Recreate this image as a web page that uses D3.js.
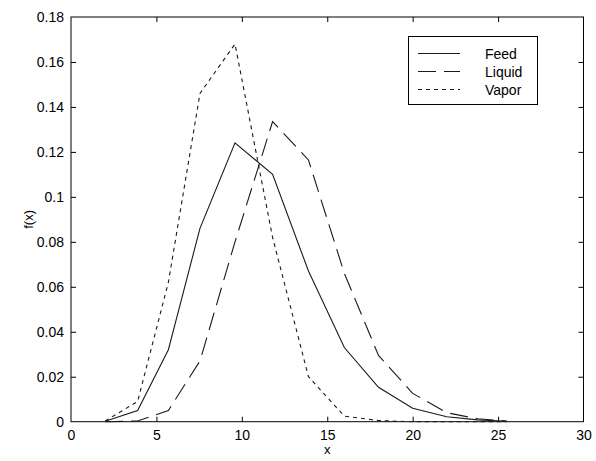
<html>
    <head>
        <script src="https://d3js.org/d3.v7.min.js"></script>
        <style>
            body { margin: 0; background: #fff; }
            text { font-family: Arial, "Liberation Sans", sans-serif; fill: #000; }
            .frame { fill: none; stroke: #000; stroke-width: 1px; }
            .curve { fill: none; stroke: #1a1a1a; stroke-width: 1.1px; }
        </style>
    </head>
    <body>
        <svg id="chart" width="596" height="461"></svg>
        <script>
            // values
            const xValues      = [2.0, 3.9, 5.7, 7.55, 9.6, 11.8, 13.9, 16.0, 18.0, 20.0, 22.0, 23.8, 25.5];
            const feedValues   = [0.0002, 0.005, 0.032, 0.086, 0.124, 0.110, 0.067, 0.033, 0.0153, 0.006, 0.0022, 0.0008, 0.0002];
            const liquidValues = [0, 0.0003, 0.005, 0.027, 0.080, 0.1335, 0.1164, 0.066, 0.0295, 0.0126, 0.004, 0.0013, 0.0003];
            const vaporValues  = [0.0003, 0.009, 0.062, 0.146, 0.168, 0.082, 0.020, 0.0025, 0.0005, 0, 0, 0, 0];
            const seriesNames  = ["Feed", "Liquid", "Vapor"];
            const xTicks = [0, 5, 10, 15, 20, 25, 30];
            const yTicks = [0, 0.02, 0.04, 0.06, 0.08, 0.1, 0.12, 0.14, 0.16, 0.18];

            const svg = d3.select("#chart");
            const plotLeft = 71, plotTop = 17, plotRight = 583.5, plotBottom = 421.7;

            const x = d3.scaleLinear().domain([0, 30]).range([plotLeft, plotRight]);
            const y = d3.scaleLinear().domain([0, 0.18]).range([plotBottom, plotTop]);
            const fmt = d => String(+d.toFixed(2));

            svg.append("rect").attr("width", 596).attr("height", 461).attr("fill", "#fff");

            // axes with inward ticks on all four sides
            const axisB = d3.axisBottom(x).tickValues(xTicks).tickSizeInner(-5).tickSizeOuter(0).tickPadding(8).tickFormat(fmt);
            const axisT = d3.axisTop(x).tickValues(xTicks).tickSizeInner(-5).tickSizeOuter(0).tickFormat("");
            const axisL = d3.axisLeft(y).tickValues(yTicks).tickSizeInner(-5).tickSizeOuter(0).tickPadding(7).tickFormat(fmt);
            const axisR = d3.axisRight(y).tickValues(yTicks).tickSizeInner(-5).tickSizeOuter(0).tickFormat("");

            const gB = svg.append("g").attr("transform", "translate(0," + plotBottom + ")").call(axisB);
            const gT = svg.append("g").attr("transform", "translate(0," + plotTop + ")").call(axisT);
            const gL = svg.append("g").attr("transform", "translate(" + plotLeft + ",0)").call(axisL);
            const gR = svg.append("g").attr("transform", "translate(" + plotRight + ",0)").call(axisR);
            [gB, gT, gL, gR].forEach(g => {
                g.select(".domain").remove();
                g.selectAll("line").attr("stroke", "#000");
                g.selectAll("text").style("font-size", "14px").attr("fill", "#000").style("font-family", "Arial, 'Liberation Sans', sans-serif");
            });
            // skip end ticks at the frame corners
            [gB, gT].forEach(g => g.selectAll(".tick").filter(d => d == 0 || d == 30).select("line").remove());
            [gL, gR].forEach(g => g.selectAll(".tick").filter(d => d == 0 || d == 0.18).select("line").remove());

            svg.append("rect").attr("class", "frame")
               .attr("x", plotLeft).attr("y", plotTop)
               .attr("width", plotRight - plotLeft).attr("height", plotBottom - plotTop);

            // curves
            const series = [
                {name: seriesNames[0], values: feedValues, dash: null},
                {name: seriesNames[1], values: liquidValues, dash: "18,8"},
                {name: seriesNames[2], values: vaporValues, dash: "4,4"}
            ];
            const line = d3.line().x((d, i) => x(xValues[i])).y(d => y(d));

            svg.selectAll("path.curve").data(series).join("path")
               .attr("class", "curve")
               .attr("d", d => line(d.values))
               .attr("stroke-dasharray", d => d.dash);

            // labels
            svg.append("text").attr("x", (plotLeft + plotRight) / 2).attr("y", 454)
               .attr("text-anchor", "middle").style("font-size", "13px").text("x");
            svg.append("text").attr("transform", "translate(33," + ((plotTop + plotBottom) / 2) + ") rotate(-90)")
               .attr("text-anchor", "middle").style("font-size", "13px").text("f(x)");

            // legend
            const legend = svg.append("g");
            legend.append("rect").attr("x", 408.5).attr("y", 36.5).attr("width", 129).attr("height", 68)
                  .attr("fill", "#fff").attr("stroke", "#000");
            const rows = legend.selectAll("g.row").data(series).join("g")
                  .attr("class", "row")
                  .attr("transform", (d, i) => "translate(0," + (53.5 + i * 18) + ")");
            rows.append("line").attr("x1", 418).attr("x2", 460)
                .attr("stroke", "#1a1a1a").attr("stroke-width", 1.1)
                .attr("stroke-dasharray", d => d.dash);
            rows.append("text").attr("x", 485).attr("y", 5).style("font-size", "14px").text(d => d.name);
        </script>
    </body>
</html>
